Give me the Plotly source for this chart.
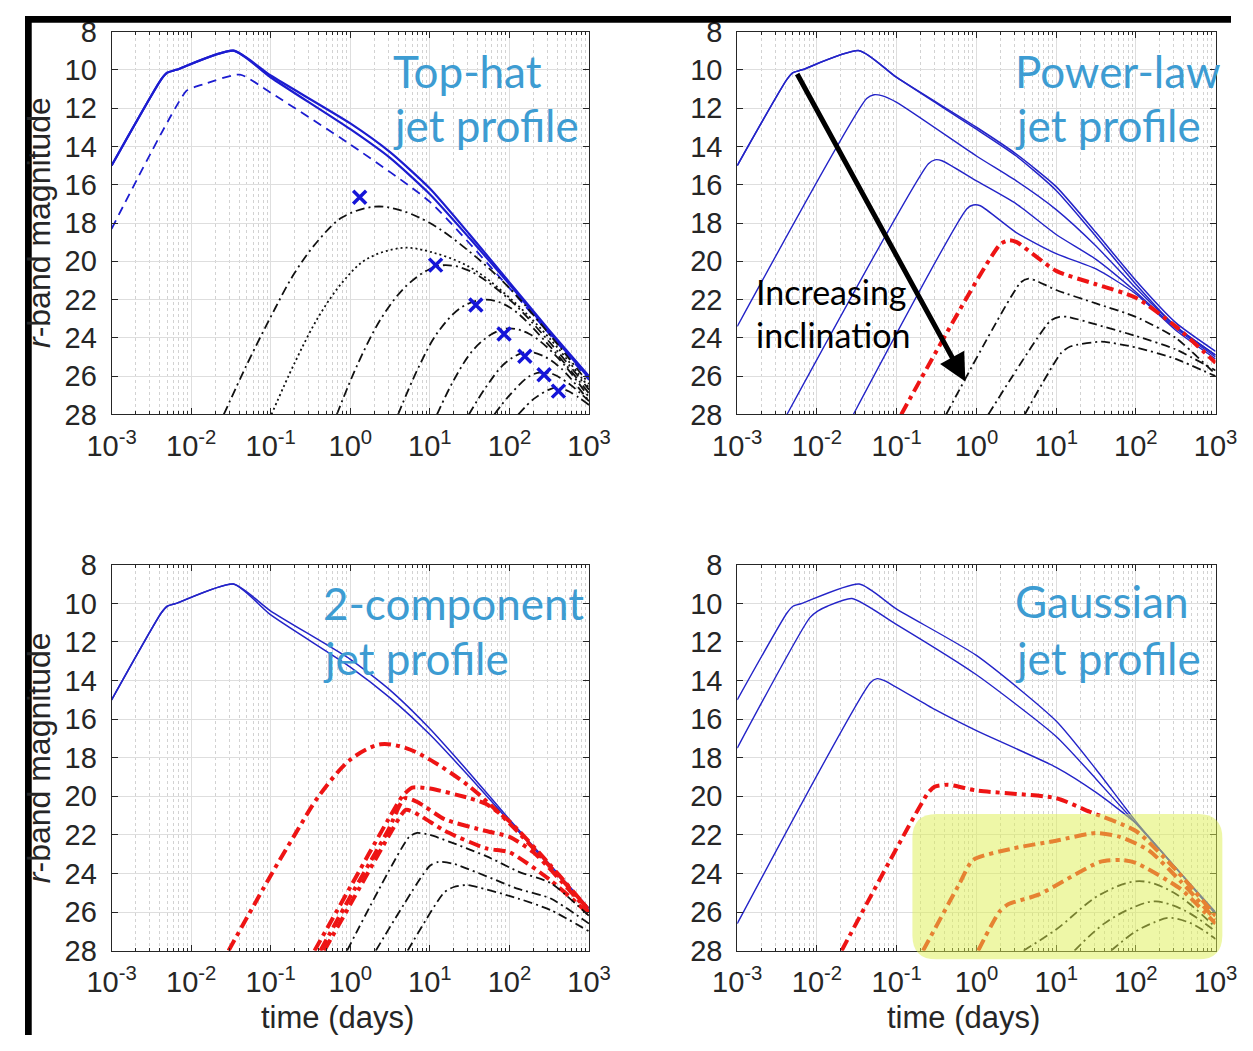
import plotly.graph_objects as go

# ---------------- data (time in days, r-band magnitude) ----------------
# Panel 1: Top-hat jet profile
th_on_t = [0.001, 0.0042, 0.005, 0.0065, 0.0339, 0.1, 1, 3.16, 10, 31.6, 100, 316, 1000]
th_on_a = [15.0, 10.5, 10.15, 10.0, 9.0, 10.3, 12.8, 14.3, 16.2, 18.6, 21.1, 23.6, 26.0]
th_on_b = [15.0, 10.5, 10.15, 10.0, 9.0, 10.4, 13.1, 14.6, 16.5, 18.8, 21.2, 23.7, 26.1]
th_dash_t = [0.001, 0.0087, 0.011, 0.0145, 0.041, 0.1, 1, 10, 100, 1000]
th_dash_m = [18.3, 11.1, 10.9, 10.75, 10.25, 11.2, 13.9, 16.9, 21.4, 26.2]
th_c1_t = [0.0257, 0.05, 0.1, 0.2, 0.398, 0.794, 2.0, 3.98, 10, 31.6, 100, 316, 1000]
th_c1_m = [28, 25.4, 22.9, 20.6, 18.9, 17.7, 17.15, 17.3, 18.0, 19.5, 21.4, 23.8, 26.4]
th_dot_t = [0.102, 0.2, 0.398, 0.794, 1.585, 4.47, 10, 31.6, 100, 316, 1000]
th_dot_m = [28, 25.3, 22.9, 21.1, 19.9, 19.3, 19.5, 20.3, 21.9, 24.0, 26.6]
th_c3_t = [0.676, 1.26, 2.51, 5.01, 10, 15.8, 31.6, 100, 316, 1000]
th_c3_m = [28, 25.3, 22.9, 21.3, 20.4, 20.2, 20.5, 22.0, 24.2, 26.7]
th_c4_t = [3.98, 7.08, 12.6, 25.1, 50.1, 100, 316, 1000]
th_c4_m = [28, 25.6, 23.7, 22.4, 22.0, 22.4, 24.4, 26.9]
th_c5_t = [12.3, 20, 35.5, 63.1, 100, 178, 398, 1000]
th_c5_m = [28, 26.2, 24.6, 23.75, 23.5, 23.8, 25.0, 27.1]
th_c6_t = [30.9, 50.1, 89.1, 158, 251, 447, 1000]
th_c6_m = [28, 26.6, 25.3, 24.75, 24.9, 25.6, 27.3]
th_c7_t = [64.6, 100, 178, 251, 355, 562, 1000]
th_c7_m = [28, 27.0, 26.0, 25.8, 25.9, 26.4, 27.3]
th_c8_t = [129, 200, 316, 398, 562, 1000]
th_c8_m = [28, 27.2, 26.7, 26.6, 26.8, 27.5]
th_peak_t = [1.31, 11.8, 37.8, 85.5, 156, 272, 413]
th_peak_m = [16.66, 20.2, 22.28, 23.8, 24.96, 25.92, 26.78]

# Panel 2: Power-law jet profile
pl_b1_t = [0.001, 0.0042, 0.005, 0.0065, 0.0339, 0.1, 1, 3.16, 10, 31.6, 100, 316, 1000]
pl_b1_m = [15.0, 10.5, 10.15, 10.0, 9.0, 10.4, 13.0, 14.4, 16.1, 18.5, 21.0, 23.2, 24.7]
pl_b1b_m = [15.0, 10.5, 10.15, 10.0, 9.0, 10.4, 13.1, 14.5, 16.3, 18.7, 21.2, 23.4, 24.9]
pl_b2_t = [0.001, 0.042, 0.0519, 0.065, 0.1, 1, 3.16, 10, 31.6, 100, 316, 1000]
pl_b2_m = [23.4, 11.5, 11.3, 11.35, 11.7, 14.5, 15.8, 17.3, 19.2, 21.4, 23.4, 24.9]
pl_b3_t = [0.0042, 0.25, 0.302, 0.37, 1, 3.16, 10, 31.6, 100, 316, 1000]
pl_b3_m = [28, 14.9, 14.7, 14.75, 15.8, 17.0, 18.6, 19.9, 21.6, 23.5, 25.0]
pl_b4_t = [0.0286, 0.76, 0.912, 1.12, 3.16, 10, 31.6, 100, 316, 1000]
pl_b4_m = [28, 17.25, 17.06, 17.1, 18.5, 19.6, 20.4, 21.7, 23.6, 25.1]
pl_r_t = [0.114, 2.0, 2.59, 3.2, 10, 31.6, 100, 316, 1000]
pl_r_m = [28, 19.1, 18.9, 19.0, 20.5, 21.2, 21.9, 23.4, 25.3]
pl_k1_t = [0.417, 3.6, 4.51, 5.5, 10, 31.6, 100, 316, 1000]
pl_k1_m = [28, 21.1, 20.9, 21.0, 21.5, 22.2, 22.9, 24.0, 25.9]
pl_k2_t = [1.41, 8.5, 11, 14, 31.6, 100, 316, 1000]
pl_k2_m = [28, 23.1, 22.9, 22.9, 23.3, 23.9, 24.6, 25.7]
pl_k3_t = [4.04, 11.5, 15, 36.9, 100, 316, 1000]
pl_k3_m = [28, 24.8, 24.45, 24.2, 24.5, 25.1, 26.0]

# Panel 3: 2-component jet profile
tc_b_t = [0.001, 0.0042, 0.005, 0.0065, 0.0339, 0.1, 1, 3.16, 10, 31.6, 100, 316, 1000]
tc_b1_m = [15.0, 10.5, 10.15, 10.0, 9.0, 10.4, 12.9, 14.5, 16.5, 18.8, 21.2, 23.5, 25.8]
tc_b2_m = [15.0, 10.5, 10.15, 10.0, 9.0, 10.6, 13.3, 14.9, 16.8, 19.0, 21.3, 23.6, 25.9]
tc_r1_t = [0.0295, 0.1, 0.2, 0.4, 1, 2.4, 5, 10, 31.6, 100, 316, 1000]
tc_r1_m = [28, 24.1, 22.0, 20.0, 18.1, 17.3, 17.5, 18.1, 19.5, 21.4, 23.6, 25.9]
tc_r2_t = [0.355, 1, 3.0, 4.5, 6.0, 10, 31.6, 51, 100, 316, 1000]
tc_r2_m = [28, 24.7, 21.2, 20.0, 19.55, 19.6, 20.1, 20.4, 21.3, 23.5, 25.9]
tc_r3_t = [0.42, 1, 3.0, 4.8, 7, 15.5, 51, 100, 200, 1000]
tc_r3_m = [28, 25.2, 21.75, 20.1, 20.3, 21.2, 21.8, 22.1, 22.9, 26.0]
tc_r4_t = [0.47, 1, 3.0, 5.0, 7.5, 15.5, 51, 100, 316, 1000]
tc_r4_m = [28, 25.6, 22.1, 20.7, 21.0, 21.8, 22.7, 22.9, 24.3, 26.1]
tc_k1_t = [0.91, 5.5, 6.9, 10, 51, 129, 331, 1000]
tc_k1_m = [28, 22.1, 21.9, 22.0, 23.1, 23.9, 24.5, 26.2]
tc_k2_t = [2.09, 10, 12.9, 20, 129, 331, 1000]
tc_k2_m = [28, 23.6, 23.4, 23.5, 24.8, 25.3, 26.6]
tc_k3_t = [5.25, 15, 20, 29.5, 129, 331, 1000]
tc_k3_m = [28, 25.0, 24.7, 24.6, 25.3, 25.9, 27.0]

# Panel 4: Gaussian jet profile
gs_b1_t = [0.001, 0.0042, 0.005, 0.0065, 0.0339, 0.1, 1, 10, 31.6, 100, 316, 1000]
gs_b1_m = [15.0, 10.5, 10.15, 10.0, 9.0, 10.3, 12.7, 16.1, 18.6, 21.3, 23.7, 26.0]
gs_b2_t = [0.001, 0.0081, 0.0102, 0.0135, 0.0275, 0.1, 1, 10, 31.6, 100, 316, 1000]
gs_b2_m = [17.5, 10.75, 10.4, 10.15, 9.75, 11.1, 13.7, 16.9, 19.1, 21.4, 23.7, 26.1]
gs_b3_t = [0.001, 0.047, 0.0569, 0.07, 0.3, 1, 10, 31.6, 100, 316, 1000]
gs_b3_m = [26.6, 14.1, 13.9, 14.0, 15.5, 16.6, 18.5, 19.8, 21.4, 23.7, 26.1]
gs_r1_t = [0.0204, 0.25, 0.3, 0.44, 1, 10, 26.3, 100, 316, 1000]
gs_r1_m = [28, 19.8, 19.5, 19.4, 19.7, 20.1, 20.8, 21.8, 23.8, 26.2]
gs_r2_t = [0.214, 0.6, 0.91, 2.9, 10, 31.6, 63, 145, 363, 1000]
gs_r2_m = [28, 24.6, 23.3, 22.7, 22.3, 21.9, 22.1, 22.8, 24.4, 26.4]
gs_r3_t = [1.05, 1.93, 2.5, 6.0, 35.5, 68, 100, 363, 1000]
gs_r3_m = [28, 26.0, 25.6, 25.1, 23.4, 23.3, 23.45, 24.8, 26.6]
gs_k1_t = [3.9, 10, 35.5, 110, 300, 1000]
gs_k1_m = [28, 26.9, 25.1, 24.4, 25.0, 26.8]
gs_k2_t = [17, 40, 100, 178, 400, 1000]
gs_k2_m = [28, 26.6, 25.7, 25.45, 25.9, 27.0]
gs_k3_t = [49, 100, 178, 257, 500, 1000]
gs_k3_m = [28, 27.0, 26.5, 26.3, 26.6, 27.4]

x_tickvals = [0.001, 0.01, 0.1, 1, 10, 100, 1000]
x_ticktext = ["10<sup>-3</sup>", "10<sup>-2</sup>", "10<sup>-1</sup>", "10<sup>0</sup>",
              "10<sup>1</sup>", "10<sup>2</sup>", "10<sup>3</sup>"]
x_minor = [k * d for d in [0.001, 0.01, 0.1, 1, 10, 100] for k in range(2, 10)]
y_tickvals = [8, 10, 12, 14, 16, 18, 20, 22, 24, 26, 28]

# ---------------- styling ----------------
W, H = 1253, 1051
BLUE = "#2424c8"
BLUE_TH = "#1c1cd0"
RED = "#ee1414"
BLACK = "#111111"
TXT = "#3d9cd2"
DASHDOT = "9px,4px,2px,4px"
DASHDOT_RED = "12px,5px,4px,5px"


def px(v):
    return v / W


def py(v):
    return 1 - v / H


fig = go.Figure()


def line(t, m, ax, color, width, dash="solid", smooth=0.6):
    xa = "x" if ax == 1 else f"x{ax}"
    ya = "y" if ax == 1 else f"y{ax}"
    fig.add_trace(go.Scatter(x=t, y=m, xaxis=xa, yaxis=ya, mode="lines",
                             line=dict(color=color, width=width, dash=dash,
                                       shape="spline", smoothing=smooth),
                             showlegend=False, hoverinfo="skip"))


# Panel 1
line(th_on_t, th_on_a, 1, BLUE_TH, 2.2)
line(th_on_t, th_on_b, 1, BLUE_TH, 2.2)
line(th_dash_t, th_dash_m, 1, BLUE_TH, 1.8, "9px,6px")
line(th_c1_t, th_c1_m, 1, BLACK, 1.8, DASHDOT, 1.0)
line(th_dot_t, th_dot_m, 1, BLACK, 1.8, "2px,3px", 1.0)
for tt, mm in [(th_c3_t, th_c3_m), (th_c4_t, th_c4_m), (th_c5_t, th_c5_m),
               (th_c6_t, th_c6_m), (th_c7_t, th_c7_m), (th_c8_t, th_c8_m)]:
    line(tt, mm, 1, BLACK, 1.8, DASHDOT, 1.0)
fig.add_trace(go.Scatter(x=th_peak_t, y=th_peak_m, xaxis="x", yaxis="y", mode="markers",
                         marker=dict(symbol="x-thin", size=13, color="#1515d8",
                                     line=dict(color="#1515d8", width=3.5)),
                         showlegend=False, hoverinfo="skip"))

# Panel 2
line(pl_b1_t, pl_b1_m, 2, BLUE, 1.5)
line(pl_b1_t, pl_b1b_m, 2, BLUE, 1.5)
line(pl_b2_t, pl_b2_m, 2, BLUE, 1.4)
line(pl_b3_t, pl_b3_m, 2, BLUE, 1.4)
line(pl_b4_t, pl_b4_m, 2, BLUE, 1.4)
line(pl_r_t, pl_r_m, 2, RED, 4, DASHDOT_RED)
line(pl_k1_t, pl_k1_m, 2, BLACK, 1.8, DASHDOT)
line(pl_k2_t, pl_k2_m, 2, BLACK, 1.8, DASHDOT)
line(pl_k3_t, pl_k3_m, 2, BLACK, 1.8, DASHDOT)

# Panel 3
line(tc_b_t, tc_b1_m, 3, BLUE, 1.5)
line(tc_b_t, tc_b2_m, 3, BLUE, 1.5)
line(tc_r1_t, tc_r1_m, 3, RED, 4, DASHDOT_RED, 0.9)
line(tc_r2_t, tc_r2_m, 3, RED, 4, DASHDOT_RED)
line(tc_r3_t, tc_r3_m, 3, RED, 4, DASHDOT_RED)
line(tc_r4_t, tc_r4_m, 3, RED, 4, DASHDOT_RED)
line(tc_k1_t, tc_k1_m, 3, BLACK, 1.8, DASHDOT)
line(tc_k2_t, tc_k2_m, 3, BLACK, 1.8, DASHDOT)
line(tc_k3_t, tc_k3_m, 3, BLACK, 1.8, DASHDOT)

# Panel 4
line(gs_b1_t, gs_b1_m, 4, BLUE, 1.4)
line(gs_b2_t, gs_b2_m, 4, BLUE, 1.4)
line(gs_b3_t, gs_b3_m, 4, BLUE, 1.4)
line(gs_r1_t, gs_r1_m, 4, RED, 4, DASHDOT_RED)
line(gs_r2_t, gs_r2_m, 4, RED, 4, DASHDOT_RED)
line(gs_r3_t, gs_r3_m, 4, RED, 4, DASHDOT_RED)
line(gs_k1_t, gs_k1_m, 4, BLACK, 1.8, DASHDOT, 1.0)
line(gs_k2_t, gs_k2_m, 4, BLACK, 1.8, DASHDOT, 1.0)
line(gs_k3_t, gs_k3_m, 4, BLACK, 1.8, DASHDOT, 1.0)

# ---------------- axes ----------------
AXC = "#262626"
TICKFONT = dict(family="Liberation Sans, Arial, sans-serif", size=29, color="#262626")


def xaxis(dom, anchor):
    return dict(type="log", range=[-3, 3], domain=dom, anchor=anchor,
                tickvals=x_tickvals, ticktext=x_ticktext, tickfont=TICKFONT,
                ticks="inside", ticklen=6, tickcolor=AXC, showline=True, linecolor=AXC,
                linewidth=1, mirror="allticks", showgrid=True, gridcolor="#dedede",
                gridwidth=1, zeroline=False, ticklabelstandoff=6,
                minor=dict(tickvals=x_minor, ticks="inside", ticklen=3, tickcolor=AXC,
                           showgrid=True, gridcolor="#d2d2d2", griddash="dot", gridwidth=1))


def yaxis(dom, anchor):
    return dict(range=[28, 8], domain=dom, anchor=anchor, tickvals=y_tickvals,
                tickfont=TICKFONT, ticks="inside", ticklen=6, tickcolor=AXC,
                showline=True, linecolor=AXC, linewidth=1, mirror="allticks",
                showgrid=True, gridcolor="#dedede", gridwidth=1, zeroline=False,
                ticklabelstandoff=8)


XL = [px(90), px(586)]
XR = [px(740), px(1237)]
YT = [py(411), py(16)]
YB = [py(964), py(566)]

fig.update_layout(
    width=W, height=H, autosize=False,
    margin=dict(l=0, r=0, t=0, b=0),
    paper_bgcolor="white", plot_bgcolor="white",
    xaxis=xaxis(XL, "y"), yaxis=yaxis(YT, "x"),
    xaxis2=xaxis(XR, "y2"), yaxis2=yaxis(YT, "x2"),
    xaxis3=xaxis(XL, "y3"), yaxis3=yaxis(YB, "x3"),
    xaxis4=xaxis(XR, "y4"), yaxis4=yaxis(YB, "x4"),
)

# ---------------- annotations ----------------
ann = []
TFONT = dict(family="Lato, Open Sans, sans-serif", size=44, color=TXT)
labels = [("Top-hat", 380, 57), ("jet profile", 380, 112),
          ("Power-law", 1026, 57), ("jet profile", 1026, 112),
          ("2-component", 308, 605), ("jet profile", 308, 662),
          ("Gaussian", 1026, 603), ("jet profile", 1026, 662)]
for txt, x0, y0 in labels:
    ann.append(dict(text=txt, x=px(x0), y=py(y0), xref="paper", yref="paper",
                    xanchor="left", yanchor="middle", showarrow=False, font=TFONT))

IFONT = dict(family="Lato, Open Sans, sans-serif", size=34, color="#000000")
ann.append(dict(text="Increasing", x=px(757), y=py(284), xref="paper", yref="paper",
                xanchor="left", yanchor="middle", showarrow=False, font=IFONT))
ann.append(dict(text="inclination", x=px(757), y=py(329), xref="paper", yref="paper",
                xanchor="left", yanchor="middle", showarrow=False, font=IFONT))
ann.append(dict(text="", x=px(977), y=py(377), xref="paper", yref="paper",
                showarrow=True, ax=808 - 977, ay=68 - 377, axref="pixel", ayref="pixel",
                arrowhead=2, arrowsize=1.1, arrowwidth=5, arrowcolor="#000000",
                standoff=0, startstandoff=0))

YFONT = dict(family="Liberation Sans, Arial, sans-serif", size=32, color="#262626")
XFONT = dict(family="Liberation Sans, Arial, sans-serif", size=31, color="#262626")
for yc in [213, 765]:
    ann.append(dict(text="<i>r</i>-band magnitude", x=px(14), y=py(yc), xref="paper",
                    yref="paper", textangle=-90, showarrow=False, font=YFONT,
                    xanchor="center", yanchor="middle"))
for xc in [325, 975]:
    ann.append(dict(text="time (days)", x=px(xc), y=py(1033), xref="paper",
                    yref="paper", showarrow=False, font=XFONT,
                    xanchor="center", yanchor="middle"))
fig.update_layout(annotations=ann)

# ---------------- shapes ----------------
shapes = [
    dict(type="rect", xref="paper", yref="paper", x0=0, x1=1, y0=py(7), y1=1,
         fillcolor="black", line=dict(width=0), layer="above"),
    dict(type="rect", xref="paper", yref="paper", x0=0, x1=px(7), y0=0, y1=1,
         fillcolor="black", line=dict(width=0), layer="above"),
]
L, R, T, B, r = 922, 1244, 823, 973, 25
pts = lambda a, b: f"{px(a):.5f},{py(b):.5f}"
path = (f"M {pts(L + r, T)} L {pts(R - r, T)} Q {pts(R, T)} {pts(R, T + r)} "
        f"L {pts(R, B - r)} Q {pts(R, B)} {pts(R - r, B)} L {pts(L + r, B)} "
        f"Q {pts(L, B)} {pts(L, B - r)} L {pts(L, T + r)} Q {pts(L, T)} {pts(L + r, T)} Z")
shapes.append(dict(type="path", xref="paper", yref="paper", path=path,
                   fillcolor="rgba(222,240,80,0.5)", line=dict(width=0), layer="above"))
fig.update_layout(shapes=shapes)

fig.write_html("out.html")
